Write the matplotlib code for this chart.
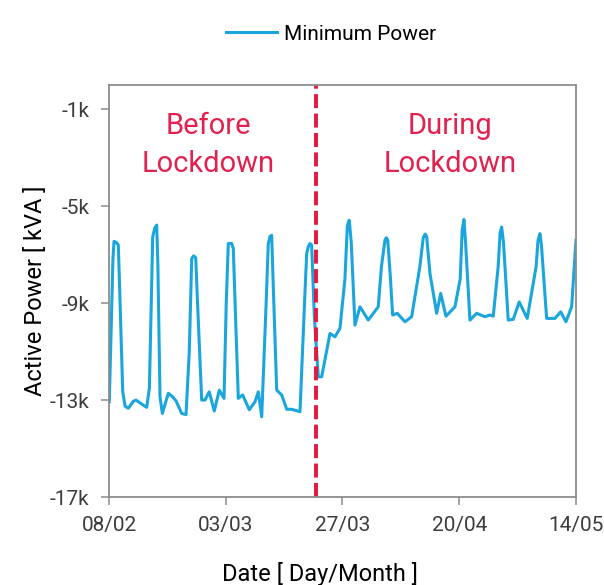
import matplotlib
matplotlib.use('Agg')
import matplotlib.pyplot as plt

# days since 08/02 and minimum active power (kVA)
day = [0.06, 0.8, 1.03, 1.5, 1.91, 2.2, 2.82, 3.3, 3.97, 5.0, 5.55, 6.6,
       7.75, 8.3, 8.98, 9.4, 9.8, 10.05, 10.48, 10.96, 12.19, 13.0, 13.77,
       14.94, 15.83, 16.5, 17.0, 17.4, 17.82, 18.2, 19.05, 19.73, 20.6,
       21.64, 22.67, 23.64, 24.1, 24.52, 25.22, 25.55, 26.0, 26.58, 27.48,
       28.84, 30.01, 30.69, 31.39, 32.3, 32.74, 33.1, 33.44, 33.8, 34.47,
       35.5, 36.53, 37.55, 39.26, 40.3, 40.64, 41.0, 41.32, 41.66, 42.2,
       43.02, 43.72, 45.43, 46.45, 47.48, 48.5, 49.0, 49.39, 49.8, 50.56,
       51.59, 53.3, 55.35, 56.0, 56.73, 57.0, 57.3, 57.8, 58.31, 59.26,
       60.84, 62.22, 63.9, 64.6, 65.0, 65.3, 66.0, 67.36, 68.18, 69.27,
       71.12, 72.2, 72.6, 72.97, 73.3, 74.2, 75.58, 77.29, 78.31, 78.99,
       80.0, 80.4, 80.72, 81.1, 82.07, 83.1, 84.33, 85.98, 87.8, 88.2,
       88.59, 88.9, 89.97, 91.68, 92.85, 93.94, 95.11, 96.0]
power_kva = [-13070, -7200, -6450, -6500, -6600, -8500, -12660, -13250,
             -13340, -13050, -13000, -13150, -13300, -12500, -6270, -5900,
             -5780, -7500, -12860, -13550, -12720, -12850, -13030, -13550,
             -13600, -11000, -7160, -7050, -7120, -9000, -13000, -13000,
             -12660, -13450, -12590, -12930, -9000, -6540, -6540, -6750,
             -9500, -12930, -12790, -13400, -13070, -12660, -13690, -9000,
             -6540, -6250, -6200, -8500, -12590, -12790, -13380, -13380,
             -13480, -8500, -6950, -6650, -6540, -6600, -9500, -12040,
             -12040, -10250, -10390, -10040, -8000, -5800, -5580, -6500,
             -9910, -9150, -9700, -9150, -7500, -6400, -6300, -6400, -7800,
             -9490, -9420, -9770, -9560, -7500, -6300, -6150, -6250, -7800,
             -9420, -8600, -9540, -9150, -8000, -6000, -5550, -6500, -9700,
             -9420, -9560, -9490, -9540, -7500, -6100, -5860, -6500, -9700,
             -9670, -8950, -9630, -7500, -6400, -6130, -6600, -9630, -9630,
             -9360, -9770, -9150, -6400]

tick_days = [0, 24, 48, 72, 96]
tick_labels = ['08/02', '03/03', '27/03', '20/04', '14/05']
y_ticks = [-17000, -13000, -9000, -5000, -1000]
y_labels = ['-17k', '-13k', '-9k', '-5k', '-1k']
lockdown_day = 42.55

plt.rcParams['font.family'] = ['Roboto', 'DejaVu Sans']

fig = plt.figure(figsize=(6.04, 5.85), dpi=100)
ax = fig.add_axes([0.1805, 0.1504, 0.7731, 0.7043])

ax.plot(day, power_kva, color='#1aa6dc', linewidth=2.2, label='Minimum Power',
        solid_joinstyle='round')
ax.axvline(lockdown_day, color='#e3193f', linewidth=2.8, dashes=(3.6, 1.4))

ax.set_xlim(0, 96)
ax.set_ylim(-17000, 0)
ax.set_xticks(tick_days)
ax.set_xticklabels(tick_labels)
ax.set_yticks(y_ticks)
ax.set_yticklabels(y_labels)

for s in ax.spines.values():
    s.set_color('#8c8c8c')
    s.set_linewidth(1.3)
ax.tick_params(length=6, width=1.1, color='#8c8c8c', labelcolor='#3c3c3c',
               labelsize=15, pad=8)

ax.set_xlabel('Date [ Day/Month ]', fontsize=17)
ax.xaxis.set_label_coords(0.452, -0.157)
ax.set_ylabel('Active Power [ kVA ]', fontsize=17, labelpad=2)

ax.text(20.4, -2480, 'Before\nLockdown', color='#e3214f', fontsize=21,
        ha='center', va='center', linespacing=1.42)
ax.text(70.2, -2480, 'During\nLockdown', color='#e3214f', fontsize=21,
        ha='center', va='center', linespacing=1.42)

fig.legend(loc='upper center', bbox_to_anchor=(0.548, 0.99), frameon=False,
           fontsize=15, handlelength=2.45, handletextpad=0.3)

fig.savefig('out.png', dpi=100)
